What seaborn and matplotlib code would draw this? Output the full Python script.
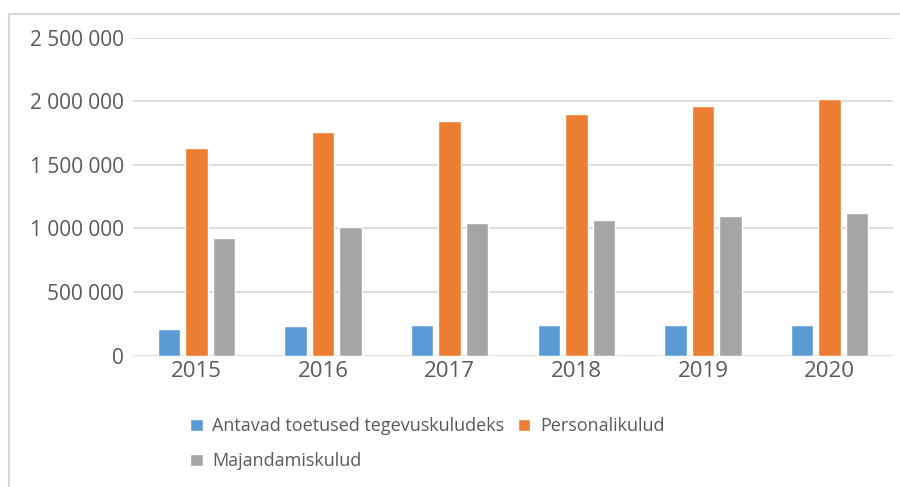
import pandas as pd
import matplotlib.pyplot as plt
import seaborn as sns
from matplotlib.patches import Rectangle
from matplotlib.ticker import FuncFormatter

# andmed
years = ["2015", "2016", "2017", "2018", "2019", "2020"]
toetused = [210000, 233000, 241000, 241000, 241000, 241000]
personal = [1633000, 1759000, 1845000, 1900000, 1963000, 2018000]
majandamine = [925000, 1012000, 1043000, 1067000, 1098000, 1122000]

series = ["Antavad toetused tegevuskuludeks", "Personalikulud", "Majandamiskulud"]
colors = ["#5B9BD5", "#ED7D31", "#A5A5A5"]

df = pd.DataFrame({"year": years, series[0]: toetused,
                   series[1]: personal, series[2]: majandamine})
long = df.melt(id_vars="year", var_name="kulu", value_name="summa")

sns.set_style("white")
plt.rcParams["font.family"] = ["Open Sans", "DejaVu Sans"]
text_col = "#595959"
grid_col = "#D9D9D9"

fig = plt.figure(figsize=(9, 4.87), dpi=100)
ax = fig.add_axes([133 / 900, 1 - 355.7 / 487, 760 / 900, 318 / 487])

sns.barplot(data=long, x="year", y="summa", hue="kulu", hue_order=series,
            palette=colors, width=0.65, gap=0.18, saturation=1,
            errorbar=None, ax=ax, zorder=3)

ax.set_ylim(0, 2500000)
ax.set_yticks(range(0, 2500001, 500000))
ax.yaxis.set_major_formatter(FuncFormatter(lambda v, p: f"{int(v):,}".replace(",", " ")))
ax.grid(axis="y", color=grid_col, linewidth=1.3, zorder=0)
ax.set_axisbelow(True)
for s in ax.spines.values():
    s.set_visible(False)
ax.set_xlabel("")
ax.set_ylabel("")
ax.tick_params(axis="both", length=0, labelcolor=text_col)
ax.tick_params(axis="y", pad=6.5, labelsize=15)
ax.tick_params(axis="x", pad=4, labelsize=16)

# legend: A ja P esimeses reas, M teises
handles, labels = ax.get_legend_handles_labels()
order = [0, 2, 1]
ax.legend([handles[i] for i in order], [labels[i] for i in order], ncol=2,
          loc="upper left", bbox_to_anchor=(174 / 900, 1 - 401 / 487),
          bbox_transform=fig.transFigure, frameon=False, fontsize=13,
          labelcolor=text_col, handlelength=0.68, handleheight=0.68,
          handletextpad=0.55, columnspacing=0.75, labelspacing=0.95)

# diagrammi raam
fig.patches.append(Rectangle((9 / 900, -0.1), 1.1, 1.1 - 14 / 487,
                             transform=fig.transFigure, fill=False,
                             edgecolor=grid_col, linewidth=1.5))

fig.savefig("out.png", dpi=100)
